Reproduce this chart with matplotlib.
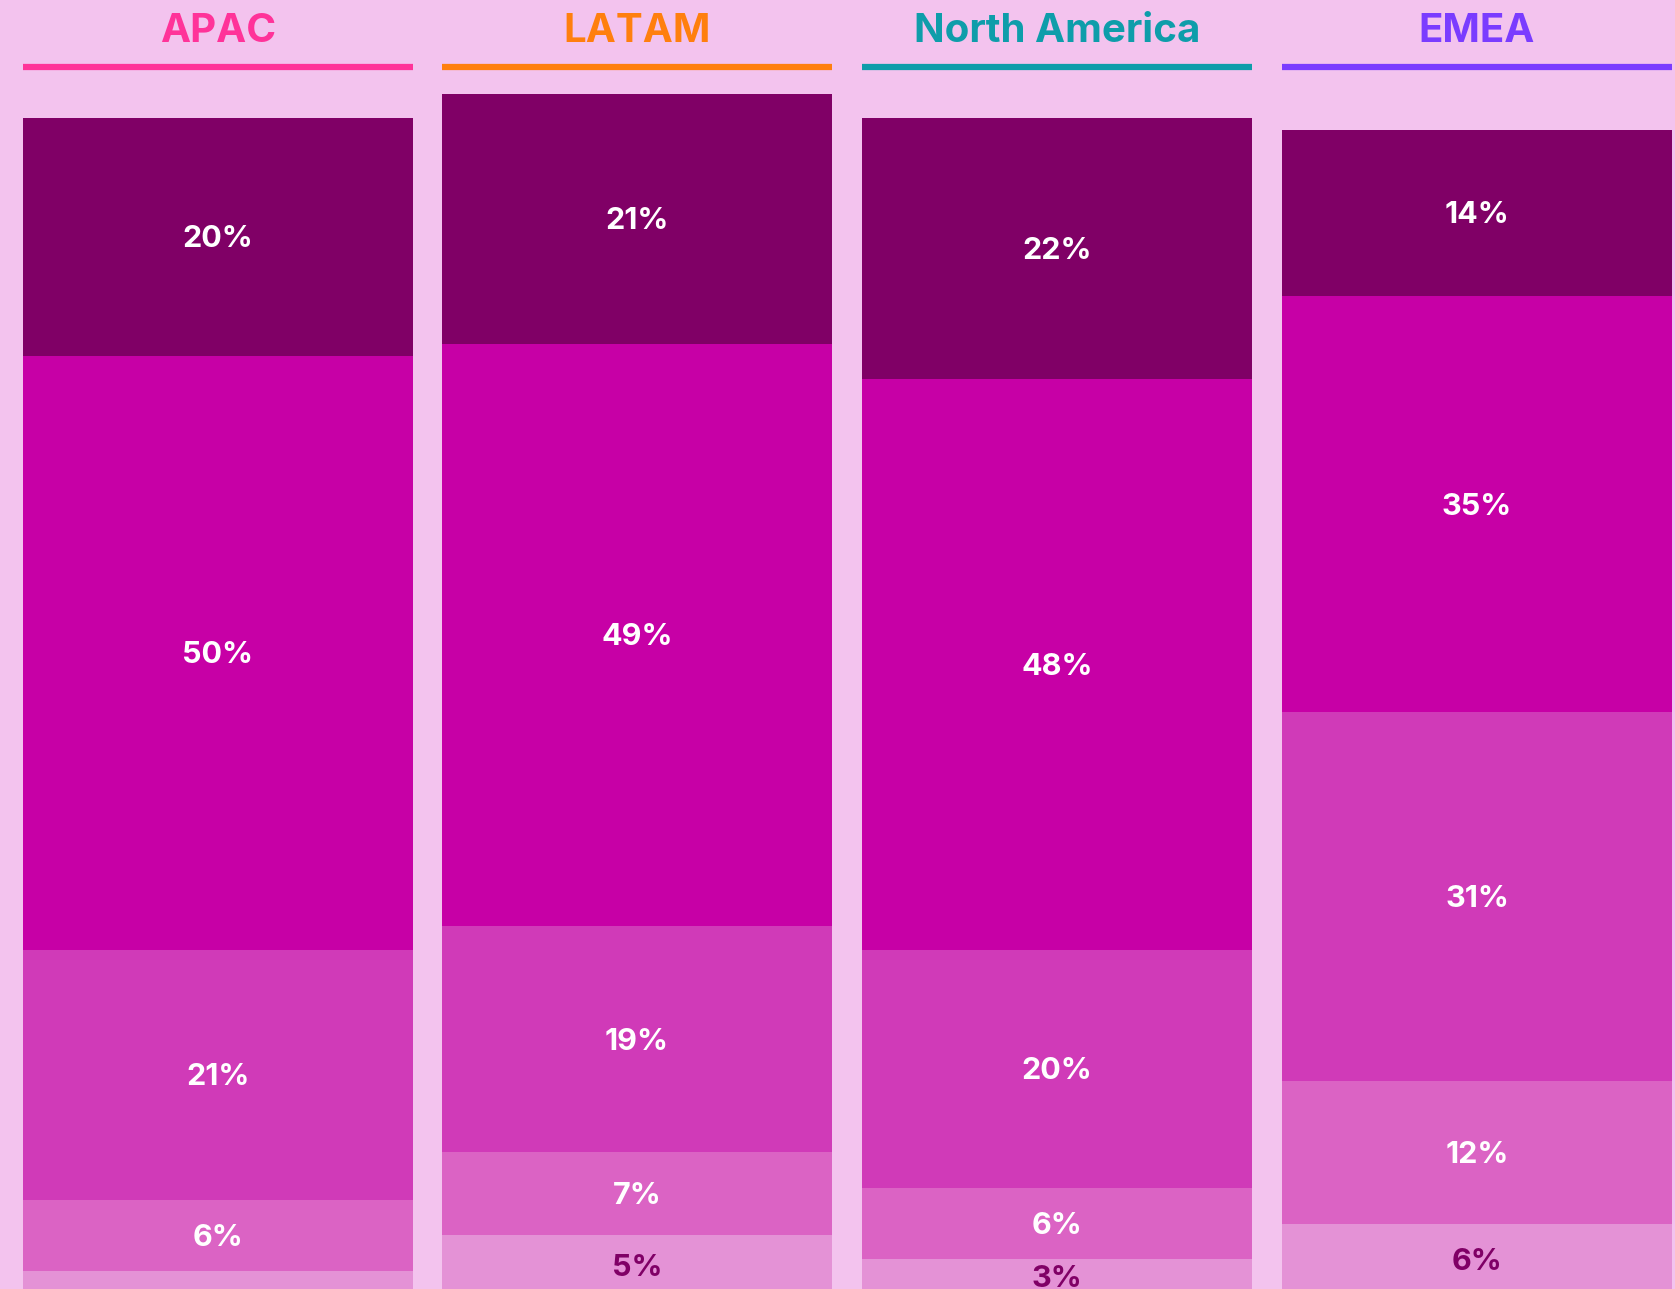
import matplotlib.pyplot as plt
from matplotlib.lines import Line2D

regions = ['APAC', 'LATAM', 'North America', 'EMEA']
region_colors = ['#FF3399', '#FF7F0E', '#0E9DAA', '#7A3CFF']

# segment shares, listed from the top of each bar down to the bottom
apac = [20, 50, 21, 6, 2]
latam = [21, 49, 19, 7, 5]
north_america = [22, 48, 20, 6, 3]
emea = [14, 35, 31, 12, 6]

seg_colors = ['#800066', '#C700A6', '#D03AB8', '#DB63C4', '#E492D6']
label_colors = ['white', 'white', 'white', 'white', '#800066']
bg = '#F3C3EE'

plt.rcParams['font.family'] = ['Inter', 'DejaVu Sans']

W, H = 1675, 1289
fig = plt.figure(figsize=(W / 100, H / 100), dpi=100)
fig.patch.set_facecolor(bg)

panel_left = [23, 442, 862, 1282]
panel_w = 390
ax_top_px = 82  # pixel row of the axes top

for i, (name, vals) in enumerate(zip(regions, [apac, latam, north_america, emea])):
    x0 = panel_left[i] / W
    ax = fig.add_axes([x0, 0, panel_w / W, (H - ax_top_px) / H])
    ax.set_facecolor(bg)
    bottom = 0
    # stack from the bottom segment upwards
    for v, c, lc in list(zip(vals, seg_colors, label_colors))[::-1]:
        ax.bar(0, v, bottom=bottom, width=1, color=c, linewidth=0)
        if v >= 3:
            ax.text(0, bottom + v / 2 - 0.2, f'{v}%', ha='center', va='center',
                    color=lc, fontsize=22, fontweight='bold')
        bottom += v
    ax.set_xlim(-0.5, 0.5)
    ax.set_ylim(0.5, 102)
    ax.axis('off')

    cx = x0 + panel_w / W / 2
    fig.text(cx, 1 - 32 / H, name, ha='center', va='center',
             color=region_colors[i], fontsize=29, fontweight='bold')
    fig.add_artist(Line2D([x0, x0 + panel_w / W], [1 - 67 / H, 1 - 67 / H],
                          color=region_colors[i], lw=4.5,
                          transform=fig.transFigure, solid_capstyle='butt'))

fig.savefig('out.png', dpi=100, facecolor=bg)
